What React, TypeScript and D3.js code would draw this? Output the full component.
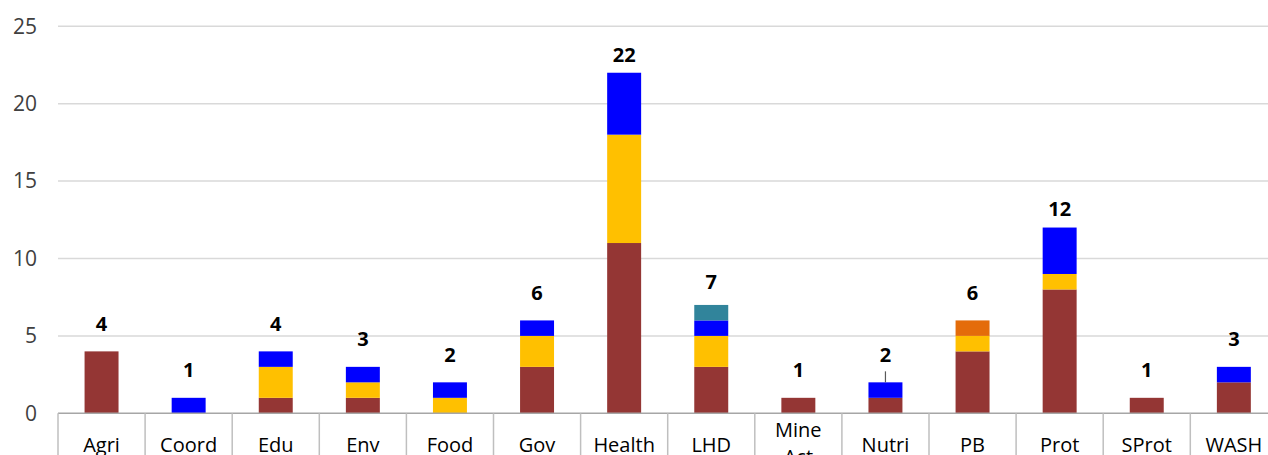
import React, { useEffect, useRef } from 'react';
import * as d3 from 'd3';

const categories = ['Agri', 'Coord', 'Edu', 'Env', 'Food', 'Gov', 'Health', 'LHD', 'Mine Act', 'Nutri', 'PB', 'Prot', 'SProt', 'WASH'];

const seriesRed = [4, 0, 1, 1, 0, 3, 11, 3, 1, 1, 4, 8, 1, 2];
const seriesYellow = [0, 0, 2, 1, 1, 2, 7, 2, 0, 0, 1, 1, 0, 0];
const seriesBlue = [0, 1, 1, 1, 1, 1, 4, 1, 0, 1, 0, 3, 0, 1];
const seriesTeal = [0, 0, 0, 0, 0, 0, 0, 1, 0, 0, 0, 0, 0, 0];
const seriesOrange = [0, 0, 0, 0, 0, 0, 0, 0, 0, 0, 1, 0, 0, 0];

const seriesKeys = ['red', 'yellow', 'blue', 'teal', 'orange'];
const seriesColors = ['#943634', '#FFC000', '#0000FF', '#31849B', '#E46C0A'];
const yTicks = [0, 5, 10, 15, 20, 25];

// gap (px) between top of stack and total label baseline, as in the original
const labelGap = [20.5, 20.5, 20.5, 20.5, 20.5, 20.5, 10.5, 16, 20.5, 20.5, 20.5, 12, 20.5, 20.5];

const W = 1268;
const H = 455;
const FONT = "'Open Sans', 'Noto Sans', sans-serif";

const App = () => {
  const ref = useRef(null);

  useEffect(() => {
    const svg = d3.select(ref.current);
    svg.selectAll('*').remove();

    const margin = { top: 26.3, left: 58, right: -9.4, bottom: 41.7 };
    const rows = categories.map((c, i) => ({
      cat: c,
      red: seriesRed[i],
      yellow: seriesYellow[i],
      blue: seriesBlue[i],
      teal: seriesTeal[i],
      orange: seriesOrange[i],
    }));
    const totals = categories.map((c, i) => seriesRed[i] + seriesYellow[i] + seriesBlue[i] + seriesTeal[i] + seriesOrange[i]);

    const x = d3.scaleBand()
      .domain(categories)
      .range([margin.left, W - margin.right])
      .paddingInner(0.61)
      .paddingOuter(0.305);
    const step = x.step();

    const y = d3.scaleLinear()
      .domain([0, 25])
      .range([H - margin.bottom, margin.top]);

    // gridlines
    svg.append('g')
      .selectAll('line')
      .data(yTicks.filter(t => t > 0))
      .enter().append('line')
      .attr('x1', margin.left)
      .attr('x2', W)
      .attr('y1', d => y(d))
      .attr('y2', d => y(d))
      .attr('stroke', '#d9d9d9')
      .attr('stroke-width', 1.5);

    // y tick labels
    svg.append('g')
      .selectAll('text')
      .data(yTicks)
      .enter().append('text')
      .attr('x', 37)
      .attr('y', d => y(d))
      .attr('dy', '0.35em')
      .attr('text-anchor', 'end')
      .style('font-family', FONT)
      .style('font-size', '21px')
      .style('fill', '#404040')
      .text(d => d);

    // stacked bars
    const stack = d3.stack().keys(seriesKeys);
    const layers = stack(rows);
    svg.append('g')
      .selectAll('g')
      .data(layers)
      .enter().append('g')
      .attr('fill', (d, i) => seriesColors[i])
      .selectAll('rect')
      .data(d => d.filter(s => s[1] - s[0] > 0))
      .enter().append('rect')
      .attr('x', d => x(d.data.cat))
      .attr('width', x.bandwidth())
      .attr('y', d => y(d[1]))
      .attr('height', d => y(d[0]) - y(d[1]));

    // axis line + category separators
    svg.append('line')
      .attr('x1', margin.left)
      .attr('x2', W)
      .attr('y1', y(0))
      .attr('y2', y(0))
      .attr('stroke', '#a6a6a6')
      .attr('stroke-width', 1.5);

    const bounds = d3.range(categories.length + 1).map(i => margin.left + i * step);
    svg.append('g')
      .selectAll('line')
      .data(bounds)
      .enter().append('line')
      .attr('x1', d => d)
      .attr('x2', d => d)
      .attr('y1', y(0))
      .attr('y2', H)
      .attr('stroke', '#bfbfbf')
      .attr('stroke-width', 1.5);

    // category labels (cut by the bottom edge, as in the original)
    const cl = svg.append('g')
      .selectAll('text')
      .data(categories)
      .enter().append('text')
      .attr('x', d => x(d) + x.bandwidth() / 2)
      .attr('y', d => (d.includes(' ') ? 437 : 452))
      .attr('text-anchor', 'middle')
      .style('font-family', FONT)
      .style('font-size', '20px')
      .style('fill', '#000');
    cl.each(function (d) {
      const words = d.split(' ');
      const t = d3.select(this);
      words.forEach((w, i) => {
        t.append('tspan')
          .attr('x', x(d) + x.bandwidth() / 2)
          .attr('dy', i === 0 ? 0 : 27)
          .text(w);
      });
    });

    // total labels
    svg.append('g')
      .selectAll('text')
      .data(categories)
      .enter().append('text')
      .attr('x', d => x(d) + x.bandwidth() / 2)
      .attr('y', (d, i) => y(totals[i]) - labelGap[i])
      .attr('text-anchor', 'middle')
      .style('font-family', FONT)
      .style('font-size', '20px')
      .style('font-weight', 'bold')
      .style('fill', '#000')
      .text((d, i) => totals[i]);

    // leader line for Nutri label
    const ni = categories.indexOf('Nutri');
    svg.append('line')
      .attr('x1', x('Nutri') + x.bandwidth() / 2)
      .attr('x2', x('Nutri') + x.bandwidth() / 2)
      .attr('y1', y(totals[ni]) - 11)
      .attr('y2', y(totals[ni]))
      .attr('stroke', '#595959')
      .attr('stroke-width', 1.2);
  }, []);

  return (
    <svg ref={ref} width={W} height={H}
      style={{ position: 'absolute', left: 0, top: 0, background: '#fff' }}></svg>
  );
};

export default App;
